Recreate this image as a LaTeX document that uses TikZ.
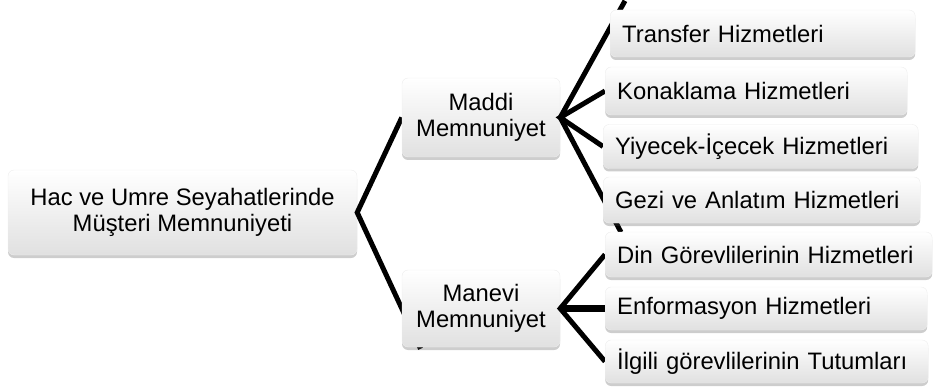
\documentclass[tikz,border=0pt]{standalone}
\usepackage{fontspec}
\setmainfont{Liberation Sans}
\usetikzlibrary{calc,shadows}
\pgfdeclarelayer{rootlayer}
\pgfdeclarelayer{midlayer}
\pgfsetlayers{rootlayer,midlayer,main}

\begin{document}
\begin{tikzpicture}[x=1pt, y=-1pt,
  box/.style={
    rectangle, rounded corners=6pt, draw=black!7,
    top color=white, bottom color=black!12,
    drop shadow={shadow xshift=0pt, shadow yshift=-3pt, opacity=0.28, fill=black!70},
    inner sep=0pt, font=\fontsize{23.8}{25.5}\selectfont
  },
  topic/.style={box, align=center},
  leaf/.style={box, anchor=west, minimum height=45pt, inner xsep=12pt,
    text width=#1, align=left},
  link/.style={line width=5pt, black, line join=miter}
]
\useasboundingbox (0,0) rectangle (933,390);

% ---- Root and first level ----
\begin{pgfonlayer}{rootlayer}
\node[topic, minimum width=349pt, minimum height=85pt] (root) at (182.5,212.5)
  {Hac ve Umre Seyahatlerinde\\Müşteri Memnuniyeti};
\end{pgfonlayer}
\begin{pgfonlayer}{midlayer}
\node[topic, minimum width=158pt, minimum height=79pt] (maddi)  at (481,117.5) {Maddi\\Memnuniyet};
\node[topic, minimum width=158pt, minimum height=77pt] (manevi) at (481,308.5) {Manevi\\Memnuniyet};
\end{pgfonlayer}

% ---- Leaves ----
\node[leaf=281pt, minimum height=47pt] (transfer) at (610, 33.5) {Transfer Hizmetleri};
\node[leaf=278pt, minimum height=48pt] (konak)    at (605, 91)   {Konaklama Hizmetleri};
\node[leaf=291pt, minimum height=44pt] (yiyecek)  at (603,146.5) {Yiyecek-İçecek Hizmetleri};
\node[leaf=293pt, minimum height=46pt] (gezi)     at (603,200)   {Gezi ve Anlatım Hizmetleri};
\node[leaf=303pt]                      (din)      at (605,254.5) {Din Görevlilerinin Hizmetleri};
\node[leaf=298pt, minimum height=43pt] (enf)      at (605,308.5) {Enformasyon Hizmetleri};
\node[leaf=299pt, minimum height=43pt] (ilgili)   at (605,361.5) {İlgili görevlilerinin Tutumları};

% ---- Connectors ----
\begin{pgfonlayer}{rootlayer}
\draw[link] (maddi.west) -- (root.east) -- ($(root.east)!1.42!(manevi.west)$);
\end{pgfonlayer}
\begin{pgfonlayer}{midlayer}
\draw[link] ($(transfer.north west)+(15,-9)$) -- (maddi.east) -- ($(gezi.south west)+(18,9)$);
\draw[link] (konak.west) -- (maddi.east) -- (yiyecek.west);
\draw[link] (din.west) -- (manevi.east) -- (ilgili.west);
\draw[link, line width=7.5pt] (manevi.east) -- (enf.west);
\end{pgfonlayer}

\end{tikzpicture}
\end{document}
